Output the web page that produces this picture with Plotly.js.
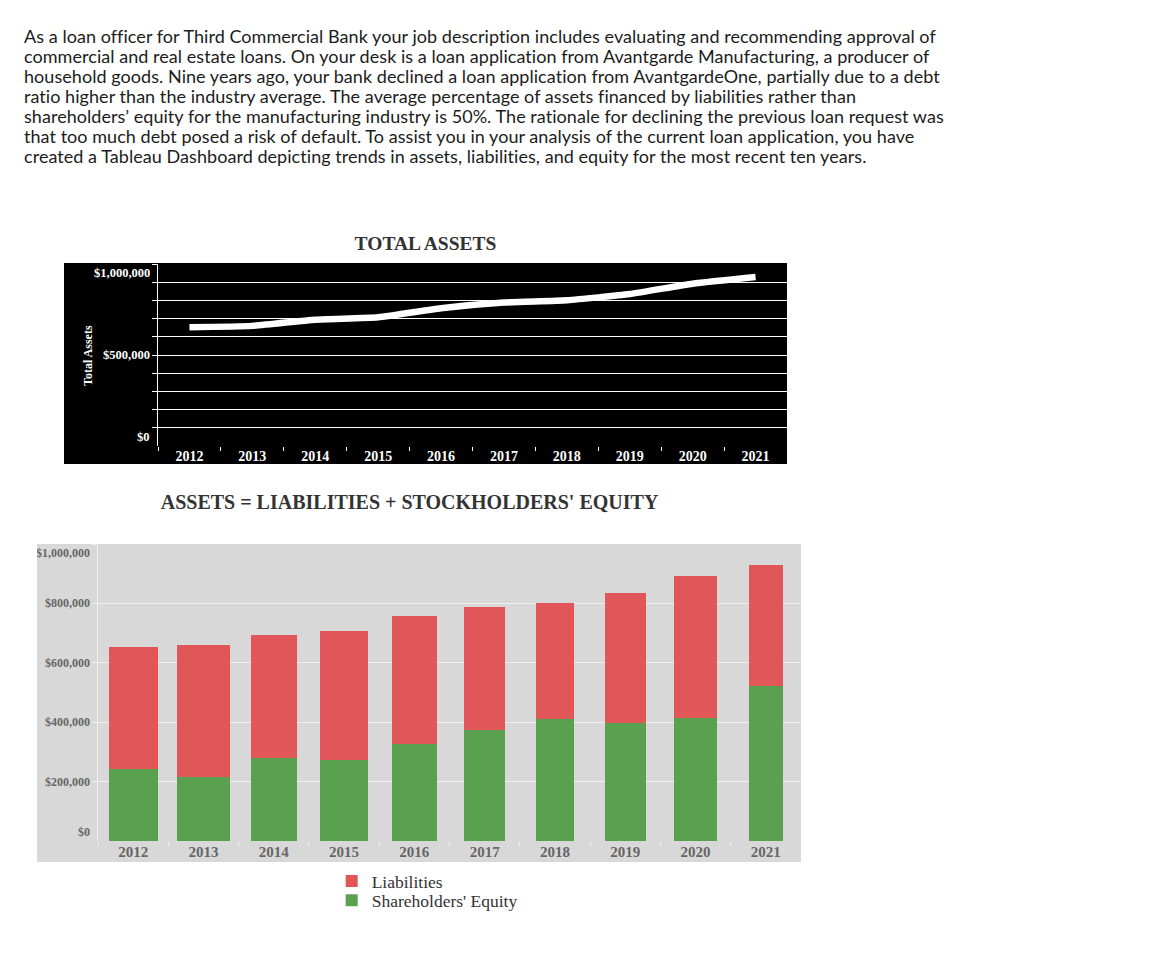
<!DOCTYPE html>
<html>
<head>
<meta charset="utf-8">
<script src="https://cdn.plot.ly/plotly-3.0.1.min.js"></script>
<style>
  body { margin: 0; background: #fff; }
  #intro {
    position: absolute; left: 24px; top: 26px;
    font-family: Lato, "Open Sans", sans-serif; font-size: 18px; line-height: 20px;
    letter-spacing: 0.05px; color: #1c1c1c; white-space: nowrap;
  }
  #assets-chart { position: absolute; left: 64px; top: 228px; width: 723px; height: 240px; }
  #balance-chart { position: absolute; left: 37px; top: 480px; width: 764px; height: 480px; }
</style>
</head>
<body>
<div id="intro">
As a loan officer for Third Commercial Bank your job description includes evaluating and recommending approval of<br>
commercial and real estate loans. On your desk is a loan application from Avantgarde Manufacturing, a producer of<br>
household goods. Nine years ago, your bank declined a loan application from AvantgardeOne, partially due to a debt<br>
ratio higher than the industry average. The average percentage of assets financed by liabilities rather than<br>
shareholders’ equity for the manufacturing industry is 50%. The rationale for declining the previous loan request was<br>
that too much debt posed a risk of default. To assist you in your analysis of the current loan application, you have<br>
created a Tableau Dashboard depicting trends in assets, liabilities, and equity for the most recent ten years.
</div>
<div id="assets-chart"></div>
<div id="balance-chart"></div>
<script>
var years = ["2012", "2013", "2014", "2015", "2016", "2017", "2018", "2019", "2020", "2021"];
var liabilities = [412000, 446000, 413000, 433000, 431000, 413000, 389000, 437000, 477000, 406000];
var equity = [241000, 214000, 281000, 274000, 326000, 375000, 412000, 398000, 415000, 523000];
var totalAssets = years.map((y, i) => liabilities[i] + equity[i]);

var assetLabelVals = [0, 500000, 1000000];
var assetGridVals = [100000, 200000, 300000, 400000, 500000, 600000, 700000, 800000, 900000, 1000000];
var balanceLabelVals = [0, 200000, 400000, 600000, 800000, 1000000];
var balanceGridVals = [200000, 400000, 600000, 800000, 1000000];

// tableau draws each column a bit differently wide
var barWidths = [0.70, 0.75, 0.65, 0.68, 0.64, 0.58, 0.54, 0.58, 0.60, 0.48];

var serif = "Liberation Serif, Times New Roman, serif";
var config = { staticPlot: true, displayModeBar: false };

// y labels sit inside the range at the ends, like tableau does
function moneyLabels(vals, color, size) {
  var top = Math.max(...vals);
  return vals.map((v) => ({
    xref: "paper", yref: "y", x: 0, y: v,
    xanchor: "right",
    yanchor: v == top ? "top" : (v == 0 ? "bottom" : "middle"),
    xshift: -6,
    text: "$" + v.toLocaleString("en-US"),
    showarrow: false,
    font: { family: serif, size: size, color: color, weight: 700 },
  }));
}

var assetsAnnotations = moneyLabels(assetLabelVals, "white", 12.5);
assetsAnnotations.push({
  xref: "paper", yref: "paper", x: -0.1256, y: 0.5,
  text: "Total Assets", textangle: -90, showarrow: false,
  font: { family: serif, size: 12, color: "white", weight: 700 },
});

Plotly.newPlot("assets-chart", [
  {
    x: years, y: totalAssets, type: "scatter", mode: "lines",
    line: { color: "white", width: 6.5, shape: "spline", smoothing: 0.5 },
  },
], {
  title: {
    text: "TOTAL ASSETS", x: 0.5, xref: "container", y: 0.9375, yref: "container", yanchor: "middle",
    font: { family: serif, size: 19.5, color: "#333", weight: 700 },
  },
  paper_bgcolor: "white",
  plot_bgcolor: "black",
  margin: { l: 94, r: 0, t: 36, b: 22 },
  showlegend: false,
  xaxis: {
    type: "category", range: [-0.5, 9.5], showgrid: false, zeroline: false, showline: false,
    ticks: "outside", tickson: "boundaries", ticklen: 4, tickcolor: "white",
    tickfont: { family: serif, size: 14, color: "white", weight: 700 },
  },
  yaxis: {
    range: [0, 1000000], tickvals: assetGridVals, ticktext: assetGridVals.map(() => ""),
    showgrid: true, gridcolor: "white", zeroline: false,
    ticks: "outside", ticklen: 5, tickcolor: "white",
    showline: true, linecolor: "white",
  },
  shapes: [
    { type: "rect", xref: "paper", yref: "paper", x0: -0.2, x1: 1.01, y0: -0.099, y1: 1.006,
      fillcolor: "black", line: { width: 0 }, layer: "below" },
  ],
  annotations: assetsAnnotations,
}, config);

var legendFont = { family: serif, size: 17.5, color: "#333" };

Plotly.newPlot("balance-chart", [
  {
    name: "Shareholders' Equity", x: years, y: equity, type: "bar",
    width: barWidths, marker: { color: "#59a14f" }, legend: "legend2",
  },
  {
    name: "Liabilities", x: years, y: liabilities, type: "bar",
    width: barWidths, marker: { color: "#e15759" }, legend: "legend",
  },
], {
  title: {
    text: "ASSETS = LIABILITIES + STOCKHOLDERS' EQUITY", x: 0.4876, xref: "container",
    y: 1 - 21.7 / 480, yref: "container", yanchor: "middle",
    font: { family: serif, size: 20, color: "#333", weight: 700 },
  },
  barmode: "stack",
  paper_bgcolor: "white",
  plot_bgcolor: "#d8d8d8",
  margin: { l: 61, r: 0, t: 64, b: 119 },
  xaxis: {
    type: "category", range: [-0.5, 9.5], showgrid: false, zeroline: false, showline: false,
    ticks: "outside", tickson: "boundaries", ticklen: 4, tickcolor: "#f0f0f0",
    tickfont: { family: serif, size: 15, color: "#666", weight: 700 },
  },
  yaxis: {
    range: [0, 1000000], tickvals: balanceGridVals, ticktext: balanceGridVals.map(() => ""),
    showgrid: true, gridcolor: "#f0f0f0", zeroline: false,
    ticks: "outside", ticklen: 5, tickcolor: "#f0f0f0",
    showline: true, linecolor: "#f0f0f0",
  },
  shapes: [
    { type: "rect", xref: "paper", yref: "paper", x0: -0.1, x1: 1.0, y0: -0.0707, y1: 1.0,
      fillcolor: "#d8d8d8", line: { width: 0 }, layer: "below" },
  ],
  showlegend: true,
  legend: {
    x: 0.3324, xanchor: "left", y: -0.0741, yanchor: "top",
    bgcolor: "rgba(0,0,0,0)", font: legendFont,
  },
  legend2: {
    x: 0.3324, xanchor: "left", y: -0.1397, yanchor: "top",
    bgcolor: "rgba(0,0,0,0)", font: legendFont,
  },
  annotations: moneyLabels(balanceLabelVals, "#666", 12),
}, config);
</script>
</body>
</html>
